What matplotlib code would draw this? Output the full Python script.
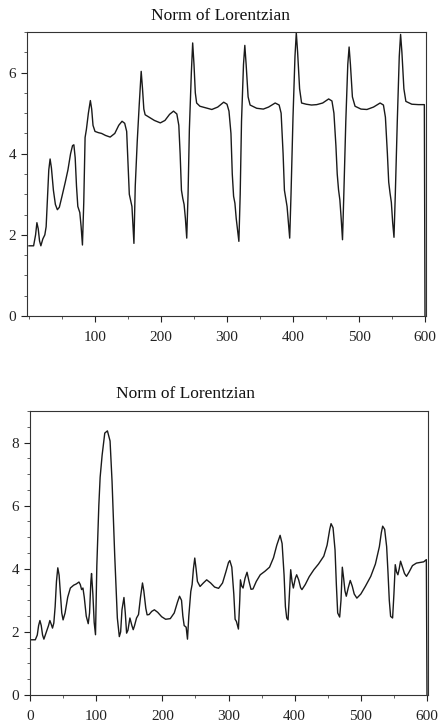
import numpy as np
import matplotlib
matplotlib.use('Agg')
import matplotlib.pyplot as plt
from matplotlib.ticker import MultipleLocator

plt.rcParams['font.family'] = ['Liberation Serif', 'DejaVu Serif']

title = 'Norm of Lorentzian'

top_x = [0, 7, 10, 12, 14, 16, 18, 21, 24, 26, 28, 30, 32, 34, 37, 40, 43, 46, 50, 55, 59, 63, 66, 68,
         70, 72, 74, 77, 79, 81, 83, 85, 87, 90, 93, 95, 97, 100, 105, 110, 116, 123, 130, 136, 141,
         145, 148, 150, 152, 154, 156, 159, 161, 164, 167, 170, 172, 174, 176, 180, 184, 190, 199, 206,
         213, 219, 224, 227, 229, 231, 233, 235, 237, 239, 241, 243, 246, 248, 250, 252, 254, 259, 268,
         277, 286, 295, 300, 303, 306, 308, 310, 312, 314, 318, 320, 322, 325, 327, 329, 332, 335, 345,
         355, 363, 373, 379, 382, 385, 387, 389, 391, 393, 395, 397, 400, 403, 405, 407, 410, 413, 420,
         428, 436, 445, 454, 459, 462, 465, 467, 469, 471, 473, 475, 477, 480, 483, 485, 487, 490, 494,
         503, 512, 522, 532, 537, 540, 543, 545, 547, 549, 551, 553, 555, 558, 561, 563, 565, 568, 571,
         580, 590, 599, 600]
top_y = [1.73, 1.73, 2.0, 2.30, 2.15, 1.85, 1.73, 1.9, 2.0, 2.2, 2.9, 3.6, 3.87, 3.65, 3.1, 2.75, 2.62,
         2.68, 2.95, 3.3, 3.6, 4.0, 4.2, 4.22, 3.9, 3.2, 2.7, 2.55, 2.2, 1.75, 2.8, 4.4, 4.6, 5.0, 5.31,
         5.1, 4.7, 4.55, 4.52, 4.5, 4.45, 4.41, 4.5, 4.7, 4.8, 4.75, 4.55, 3.8, 3.0, 2.85, 2.7, 1.79,
         3.2, 4.3, 5.2, 6.03, 5.6, 5.1, 4.96, 4.92, 4.88, 4.82, 4.76, 4.82, 4.97, 5.05, 4.98, 4.7, 4.0,
         3.1, 2.9, 2.75, 2.4, 1.92, 3.0, 4.6, 6.0, 6.73, 6.2, 5.5, 5.25, 5.17, 5.13, 5.09, 5.15, 5.27,
         5.22, 5.05, 4.5, 3.5, 2.95, 2.78, 2.4, 1.84, 3.0, 4.8, 6.2, 6.67, 6.2, 5.4, 5.2, 5.12, 5.1,
         5.15, 5.25, 5.2, 5.0, 4.0, 3.1, 2.9, 2.7, 2.3, 1.92, 3.0, 4.9, 6.4, 6.98, 6.5, 5.6, 5.25, 5.22,
         5.2, 5.21, 5.25, 5.35, 5.3, 5.0, 4.2, 3.5, 3.11, 2.86, 2.4, 1.88, 3.0, 4.8, 6.2, 6.63, 6.2,
         5.4, 5.17, 5.1, 5.09, 5.15, 5.25, 5.2, 4.9, 4.0, 3.3, 3.03, 2.8, 2.3, 1.94, 3.0, 4.8, 6.4,
         6.94, 6.5, 5.6, 5.29, 5.22, 5.21, 5.21, 0.0]

bot_x = [0, 8, 11, 13, 15, 17, 19, 21, 24, 26, 28, 30, 32, 34, 36, 38, 40, 42, 44, 46, 48, 50, 53, 57,
         61, 66, 70, 74, 76, 78, 80, 82, 85, 88, 90, 92, 93, 95, 97, 99, 101, 104, 106, 109, 113, 117,
         121, 124, 126, 128, 130, 132, 135, 137, 139, 142, 144, 146, 148, 151, 154, 156, 158, 161, 164,
         167, 170, 172, 175, 177, 180, 184, 188, 193, 199, 205, 212, 218, 223, 226, 229, 231, 233, 236,
         238, 240, 243, 245, 247, 249, 251, 253, 257, 262, 267, 273, 279, 285, 291, 296, 300, 302, 305,
         308, 310, 312, 315, 317, 318, 320, 322, 325, 328, 331, 334, 337, 342, 348, 355, 362, 368, 373,
         378, 381, 384, 386, 388, 390, 392, 394, 396, 398, 401, 403, 406, 409, 411, 416, 422, 429, 436,
         444, 449, 453, 455, 458, 461, 463, 465, 468, 470, 472, 474, 476, 478, 481, 484, 487, 490, 494,
         500, 507, 515, 522, 528, 531, 533, 536, 539, 541, 543, 545, 548, 550, 552, 554, 556, 558, 560,
         563, 566, 569, 573, 578, 584, 590, 595, 599, 600]
bot_y = [1.75, 1.75, 1.9, 2.2, 2.36, 2.2, 1.9, 1.77, 1.95, 2.07, 2.2, 2.36, 2.25, 2.12, 2.28, 2.8, 3.6,
         4.03, 3.8, 3.2, 2.6, 2.38, 2.6, 3.1, 3.39, 3.48, 3.52, 3.58, 3.5, 3.34, 3.39, 3.1, 2.5, 2.26,
         2.6, 3.6, 3.85, 3.2, 2.3, 1.91, 4.1, 6.0, 6.9, 7.6, 8.3, 8.37, 8.05, 6.77, 5.6, 4.44, 3.4,
         2.44, 1.85, 2.0, 2.7, 3.09, 2.6, 1.96, 2.05, 2.44, 2.2, 2.07, 2.2, 2.44, 2.55, 3.1, 3.55, 3.3,
         2.75, 2.54, 2.55, 2.65, 2.70, 2.62, 2.48, 2.40, 2.42, 2.6, 2.95, 3.13, 3.0, 2.5, 2.2, 2.15, 1.77,
         2.5, 3.28, 3.5, 4.0, 4.34, 4.0, 3.6, 3.44, 3.55, 3.65, 3.55, 3.42, 3.38, 3.55, 3.9, 4.2, 4.26,
         4.05, 3.2, 2.4, 2.33, 2.09, 3.0, 3.65, 3.45, 3.39, 3.7, 3.89, 3.6, 3.35, 3.36, 3.6, 3.81,
         3.92, 4.05, 4.35, 4.75, 5.06, 4.8, 3.8, 2.8, 2.44, 2.38, 3.2, 3.97, 3.6, 3.39, 3.7, 3.81,
         3.65, 3.4, 3.34, 3.5, 3.75, 3.97, 4.15, 4.40, 4.75, 5.25, 5.43, 5.3, 4.6, 3.5, 2.6, 2.47,
         3.0, 4.05, 3.7, 3.3, 3.13, 3.4, 3.63, 3.45, 3.2, 3.07, 3.2, 3.45, 3.76, 4.15, 4.7, 5.15, 5.35,
         5.25, 4.7, 3.9, 3.0, 2.49, 2.44, 3.2, 4.13, 3.9, 3.81, 4.0, 4.24, 4.05, 3.85, 3.76, 3.9, 4.1,
         4.18, 4.2, 4.22, 4.29, 0.0]

top_xticks = [100, 200, 300, 400, 500, 600]
top_yticks = [0, 2, 4, 6]
bot_xticks = [0, 100, 200, 300, 400, 500, 600]
bot_yticks = [0, 2, 4, 6, 8]

fig = plt.figure(figsize=(4.38, 7.26), dpi=100)
ax1 = fig.add_axes([27 / 438, 1 - 316 / 726, 399 / 438, 284 / 726])
ax2 = fig.add_axes([30 / 438, 1 - 695 / 726, 398 / 438, 284 / 726])


def style(ax, xticks, yticks, xlim, ylim, title_x):
    ax.set_xlim(*xlim)
    ax.set_ylim(*ylim)
    ax.set_xticks(xticks)
    ax.set_yticks(yticks)
    ax.xaxis.set_minor_locator(MultipleLocator(50))
    ax.yaxis.set_minor_locator(MultipleLocator(0.5))
    ax.tick_params(which='major', direction='out', length=4, width=0.8, labelsize=11, pad=4,
                   colors='#222222')
    ax.tick_params(axis='x', which='major', pad=7)
    ax.tick_params(which='minor', direction='out', length=2.5, width=0.6, colors='#444444')
    for sp in ax.spines.values():
        sp.set_linewidth(0.8)
        sp.set_color('#333333')
    ax.set_title(title, fontsize=12.5, x=title_x, pad=9, color='#111111')


ax1.plot(top_x, top_y, color='#1a1a1a', lw=1.0)
style(ax1, top_xticks, top_yticks, (-3, 601.5), (0, 7.0), 0.486)

ax2.plot(bot_x, bot_y, color='#1a1a1a', lw=1.0)
style(ax2, bot_xticks, bot_yticks, (0, 601.5), (0, 9.0), 0.39)

fig.savefig('out.png', dpi=100)
